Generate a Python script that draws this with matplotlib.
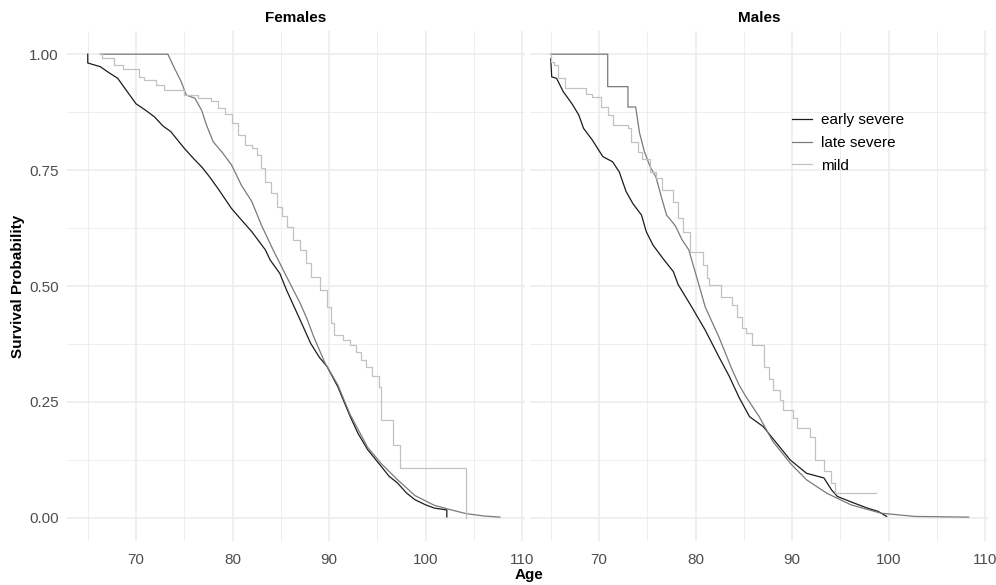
import matplotlib
matplotlib.use("Agg")
import matplotlib.pyplot as plt
from matplotlib.ticker import MultipleLocator

plt.rcParams["font.family"] = ["Liberation Sans", "DejaVu Sans"]

GROUPS = ["early severe", "late severe", "mild"]
COLORS = {"early severe": "#1c1c1c", "late severe": "#7a7a7a", "mild": "#c2c2c2"}

# Kaplan-Meier estimates, females
F_EARLY_AGE = [65.0, 65.0, 66.3, 67.2, 68.1, 69.1, 70.0, 71.0, 71.9, 72.8, 73.6, 75.0,
               76.0, 76.8, 77.6, 78.5, 79.9, 80.9, 82.0, 83.4, 83.9, 84.9, 85.6, 87.0,
               88.1, 89.0, 89.8, 90.9, 91.6, 92.2, 93.0, 94.0, 95.4, 96.2, 97.1, 98.0,
               98.9, 100.0, 100.9, 102.2, 102.2]
F_EARLY_SURV = [1.0, 0.981, 0.973, 0.960, 0.948, 0.919, 0.893, 0.879, 0.865, 0.845, 0.833,
                0.797, 0.774, 0.757, 0.736, 0.710, 0.667, 0.643, 0.617, 0.578, 0.556, 0.527,
                0.491, 0.427, 0.376, 0.346, 0.326, 0.283, 0.248, 0.218, 0.182, 0.147, 0.111,
                0.090, 0.075, 0.054, 0.039, 0.028, 0.021, 0.017, 0.002]

F_LATE_AGE = [66.3, 73.3, 74.0, 74.7, 75.2, 76.1, 76.8, 77.3, 78.0, 78.9, 79.9, 80.9,
              82.0, 83.0, 84.2, 85.6, 87.0, 87.7, 88.4, 89.6, 90.9, 92.2, 94.0, 95.4,
              97.1, 98.9, 100.9, 102.3, 104.2, 106.0, 107.7]
F_LATE_SURV = [1.0, 1.0, 0.969, 0.940, 0.912, 0.905, 0.879, 0.847, 0.811, 0.789, 0.761,
               0.718, 0.682, 0.631, 0.578, 0.520, 0.463, 0.430, 0.391, 0.333, 0.287, 0.222,
               0.152, 0.117, 0.082, 0.048, 0.027, 0.019, 0.009, 0.004, 0.0015]

F_MILD_AGE = [66.3, 66.5, 67.7, 68.6, 70.3, 70.8, 72.1, 72.9, 75.0, 76.4, 77.8, 78.5,
              79.2, 79.9, 80.6, 81.3, 82.0, 82.5, 83.0, 83.4, 84.0, 84.6, 85.1, 85.6,
              86.3, 87.0, 87.6, 88.1, 89.1, 89.8, 90.2, 90.5, 91.4, 92.2, 92.8, 93.3,
              93.8, 94.5, 95.2, 95.4, 96.6, 97.4, 104.2]
F_MILD_SURV = [1.0, 0.991, 0.976, 0.967, 0.951, 0.944, 0.933, 0.922, 0.912, 0.906, 0.898,
               0.883, 0.872, 0.851, 0.825, 0.804, 0.797, 0.782, 0.754, 0.725, 0.700, 0.671,
               0.650, 0.628, 0.600, 0.578, 0.550, 0.520, 0.491, 0.455, 0.420, 0.394, 0.384,
               0.373, 0.358, 0.341, 0.326, 0.305, 0.283, 0.211, 0.157, 0.107, 0.0]

# Kaplan-Meier estimates, males
M_EARLY_AGE = [65.0, 65.1, 65.6, 66.3, 67.2, 67.9, 68.4, 69.3, 70.4, 71.4, 72.1, 72.8,
               73.5, 74.4, 74.9, 75.6, 76.6, 77.7, 78.2, 79.6, 81.0, 82.4, 83.5, 84.5,
               85.6, 87.0, 88.4, 89.8, 91.5, 93.3, 94.1, 94.7, 96.4, 97.8, 98.9, 99.8]
M_EARLY_SURV = [0.99, 0.951, 0.948, 0.919, 0.893, 0.869, 0.840, 0.815, 0.779, 0.768, 0.746,
                0.704, 0.678, 0.653, 0.617, 0.588, 0.560, 0.531, 0.503, 0.455, 0.405, 0.348,
                0.305, 0.260, 0.218, 0.197, 0.161, 0.125, 0.096, 0.086, 0.060, 0.046, 0.032,
                0.021, 0.014, 0.003]

M_LATE_AGE = [65.0, 70.9, 70.9, 73.0, 73.0, 73.8, 74.2, 74.7, 75.3, 75.9, 76.5, 77.0,
              77.9, 78.6, 79.3, 80.3, 81.0, 82.4, 83.8, 84.5, 85.2, 86.6, 88.0, 89.8,
              91.5, 93.6, 96.1, 99.2, 102.7, 108.3]
M_LATE_SURV = [1.0, 1.0, 0.930, 0.930, 0.886, 0.886, 0.830, 0.790, 0.757, 0.735, 0.689,
               0.653, 0.630, 0.600, 0.578, 0.506, 0.455, 0.391, 0.319, 0.287, 0.262, 0.218,
               0.165, 0.118, 0.082, 0.053, 0.028, 0.010, 0.003, 0.0015]

M_MILD_AGE = [65.0, 65.05, 65.3, 65.8, 66.5, 68.6, 69.3, 70.2, 70.9, 71.4, 73.0, 73.3,
              74.0, 74.5, 75.3, 75.9, 76.5, 77.7, 78.2, 78.7, 79.4, 80.8, 81.2, 81.4,
              82.6, 83.8, 84.3, 84.8, 85.2, 85.9, 87.1, 87.6, 88.0, 88.7, 89.1, 90.1,
              90.5, 91.9, 92.4, 93.3, 94.0, 94.5, 98.7]
M_MILD_SURV = [1.0, 0.983, 0.976, 0.948, 0.926, 0.915, 0.908, 0.887, 0.869, 0.847, 0.840,
               0.811, 0.789, 0.775, 0.746, 0.732, 0.707, 0.682, 0.646, 0.617, 0.574, 0.545,
               0.517, 0.502, 0.477, 0.458, 0.434, 0.410, 0.398, 0.373, 0.326, 0.300, 0.276,
               0.254, 0.233, 0.215, 0.193, 0.175, 0.125, 0.100, 0.075, 0.053, 0.053]

PANELS = [
    ("Females", {"early severe": (F_EARLY_AGE, F_EARLY_SURV),
                 "late severe": (F_LATE_AGE, F_LATE_SURV),
                 "mild": (F_MILD_AGE, F_MILD_SURV)}),
    ("Males", {"early severe": (M_EARLY_AGE, M_EARLY_SURV),
               "late severe": (M_LATE_AGE, M_LATE_SURV),
               "mild": (M_MILD_AGE, M_MILD_SURV)}),
]

W, H = 996, 585
fig = plt.figure(figsize=(W / 100, H / 100), dpi=100)
lefts = [67, 530]
pw, ptop, pbot = 458, 31, 541

axes = []
for k, (title, curves) in enumerate(PANELS):
    ax = fig.add_axes([lefts[k] / W, 1 - pbot / H, pw / W, (pbot - ptop) / H])
    for g in GROUPS:
        a, s = curves[g]
        # mild has few events, so its staircase is drawn as steps
        ds = "steps-post" if g == "mild" else "default"
        ax.plot(a, s, color=COLORS[g], lw=0.9, drawstyle=ds, label=g, zorder=3)
    ax.set_xlim(62.85, 110.3)
    ax.set_ylim(-0.05, 1.05)
    ax.xaxis.set_major_locator(MultipleLocator(10))
    ax.xaxis.set_minor_locator(MultipleLocator(5))
    ax.yaxis.set_major_locator(MultipleLocator(0.25))
    ax.yaxis.set_minor_locator(MultipleLocator(0.125))
    ax.grid(which="major", color="#ebebeb", lw=1.1)
    ax.grid(which="minor", color="#ebebeb", lw=0.6)
    ax.set_axisbelow(True)
    for sp in ax.spines.values():
        sp.set_visible(False)
    ax.tick_params(which="both", length=0, labelsize=11, labelcolor="#4d4d4d")
    ax.tick_params(axis="x", pad=9)
    ax.tick_params(axis="y", pad=6)
    if k == 0:
        ax.set_yticks([0, 0.25, 0.5, 0.75, 1.0])
        ax.set_yticklabels(["0.00", "0.25", "0.50", "0.75", "1.00"])
    else:
        ax.tick_params(axis="y", labelleft=False)
    fig.text((lefts[k] + pw / 2) / W, 1 - 18 / H, title, ha="center", va="center",
             fontsize=11, fontweight="bold")
    axes.append(ax)

fig.text(529 / W, 1 - 575 / H, "Age", ha="center", va="center",
         fontsize=11, fontweight="bold")
fig.text(18 / W, 1 - 286 / H, "Survival Probability", ha="center", va="center",
         rotation=90, fontsize=11, fontweight="bold")

axes[1].legend(loc="upper left", bbox_to_anchor=(792 / W, 1 - 113 / H),
               bbox_transform=fig.transFigure, frameon=False, fontsize=11,
               handlelength=1.3, handletextpad=0.6, labelspacing=0.58,
               borderaxespad=0, borderpad=0)

fig.savefig("out.png", dpi=100)
